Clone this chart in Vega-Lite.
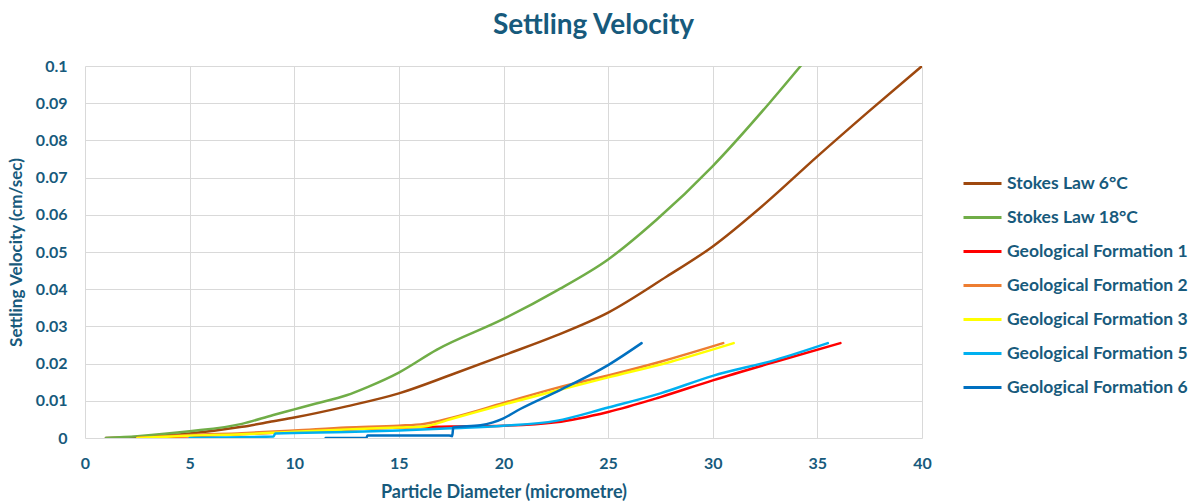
{
  "$schema": "https://vega.github.io/schema/vega-lite/v6.json",
  "autosize": {"type": "none"},
  "padding": {"left": 85, "top": 66, "right": 273, "bottom": 66},
  "width": 837,
  "height": 372,
  "background": "white",
  "title": {
    "text": "Settling Velocity",
    "fontSize": 28,
    "font": "Lato",
    "fontWeight": "bold",
    "color": "#175a7c",
    "anchor": "middle",
    "dx": 90,
    "offset": 18
  },
  "config": {
    "view": {"stroke": null},
    "font": "Lato",
    "axis": {
      "labelFont": "Lato",
      "labelFontSize": 16,
      "labelFontWeight": "bold",
      "labelColor": "#175a7c",
      "titleFont": "Lato",
      "titleFontSize": 17,
      "titleFontWeight": "bold",
      "titleColor": "#175a7c",
      "gridColor": "#D9D9D9",
      "gridWidth": 1,
      "gridOpacity": 1,
      "domain": false,
      "ticks": false,
      "labelFlush": false
    },
    "legend": {
      "labelFont": "Lato",
      "labelFontSize": 17.5,
      "labelFontWeight": "bold",
      "labelColor": "#175a7c",
      "labelLimit": 300
    }
  },
  "data": {
    "values": [
      {"s": "Stokes Law 6°C", "i": 1, "x": 1, "y": 0},
      {"s": "Stokes Law 6°C", "i": 2, "x": 2.5, "y": 0.0003},
      {"s": "Stokes Law 6°C", "i": 3, "x": 5, "y": 0.0012},
      {"s": "Stokes Law 6°C", "i": 4, "x": 7.5, "y": 0.003},
      {"s": "Stokes Law 6°C", "i": 5, "x": 9, "y": 0.0045},
      {"s": "Stokes Law 6°C", "i": 6, "x": 10, "y": 0.0055},
      {"s": "Stokes Law 6°C", "i": 7, "x": 12.5, "y": 0.0085},
      {"s": "Stokes Law 6°C", "i": 8, "x": 15, "y": 0.012},
      {"s": "Stokes Law 6°C", "i": 9, "x": 17.5, "y": 0.017},
      {"s": "Stokes Law 6°C", "i": 10, "x": 20, "y": 0.0222},
      {"s": "Stokes Law 6°C", "i": 11, "x": 22.5, "y": 0.0275},
      {"s": "Stokes Law 6°C", "i": 12, "x": 25, "y": 0.0337},
      {"s": "Stokes Law 6°C", "i": 13, "x": 27.8, "y": 0.0434},
      {"s": "Stokes Law 6°C", "i": 14, "x": 30, "y": 0.0515},
      {"s": "Stokes Law 6°C", "i": 15, "x": 32.5, "y": 0.063},
      {"s": "Stokes Law 6°C", "i": 16, "x": 35, "y": 0.0757},
      {"s": "Stokes Law 6°C", "i": 17, "x": 37.5, "y": 0.088},
      {"s": "Stokes Law 6°C", "i": 18, "x": 40, "y": 0.1},

      {"s": "Stokes Law 18°C", "i": 1, "x": 1, "y": 0},
      {"s": "Stokes Law 18°C", "i": 2, "x": 2.5, "y": 0.0005},
      {"s": "Stokes Law 18°C", "i": 3, "x": 5, "y": 0.0018},
      {"s": "Stokes Law 18°C", "i": 4, "x": 7.5, "y": 0.0038},
      {"s": "Stokes Law 18°C", "i": 5, "x": 9, "y": 0.0062},
      {"s": "Stokes Law 18°C", "i": 6, "x": 10, "y": 0.0077},
      {"s": "Stokes Law 18°C", "i": 7, "x": 11, "y": 0.0092},
      {"s": "Stokes Law 18°C", "i": 8, "x": 12.5, "y": 0.0115},
      {"s": "Stokes Law 18°C", "i": 9, "x": 13.5, "y": 0.0137},
      {"s": "Stokes Law 18°C", "i": 10, "x": 15, "y": 0.0176},
      {"s": "Stokes Law 18°C", "i": 11, "x": 16.8, "y": 0.0237},
      {"s": "Stokes Law 18°C", "i": 12, "x": 20, "y": 0.032},
      {"s": "Stokes Law 18°C", "i": 13, "x": 22.5, "y": 0.0395},
      {"s": "Stokes Law 18°C", "i": 14, "x": 25, "y": 0.048},
      {"s": "Stokes Law 18°C", "i": 15, "x": 27.3, "y": 0.0586},
      {"s": "Stokes Law 18°C", "i": 16, "x": 30, "y": 0.0731},
      {"s": "Stokes Law 18°C", "i": 17, "x": 32.7, "y": 0.09},
      {"s": "Stokes Law 18°C", "i": 18, "x": 34.2, "y": 0.1},

      {"s": "Geological Formation 1", "i": 1, "x": 2.5, "y": 0},
      {"s": "Geological Formation 1", "i": 2, "x": 5, "y": 0.0005},
      {"s": "Geological Formation 1", "i": 3, "x": 10, "y": 0.0016},
      {"s": "Geological Formation 1", "i": 4, "x": 15, "y": 0.0028},
      {"s": "Geological Formation 1", "i": 5, "x": 17.5, "y": 0.0031},
      {"s": "Geological Formation 1", "i": 6, "x": 20, "y": 0.0033},
      {"s": "Geological Formation 1", "i": 7, "x": 22.5, "y": 0.0042},
      {"s": "Geological Formation 1", "i": 8, "x": 25, "y": 0.007},
      {"s": "Geological Formation 1", "i": 9, "x": 27.5, "y": 0.011},
      {"s": "Geological Formation 1", "i": 10, "x": 30, "y": 0.0155},
      {"s": "Geological Formation 1", "i": 11, "x": 33, "y": 0.0205},
      {"s": "Geological Formation 1", "i": 12, "x": 36.1, "y": 0.0255},

      {"s": "Geological Formation 2", "i": 1, "x": 2.5, "y": 0},
      {"s": "Geological Formation 2", "i": 2, "x": 5, "y": 0.0008},
      {"s": "Geological Formation 2", "i": 3, "x": 7.5, "y": 0.0013},
      {"s": "Geological Formation 2", "i": 4, "x": 10, "y": 0.002},
      {"s": "Geological Formation 2", "i": 5, "x": 12.5, "y": 0.0028},
      {"s": "Geological Formation 2", "i": 6, "x": 15, "y": 0.0033},
      {"s": "Geological Formation 2", "i": 7, "x": 16.2, "y": 0.0038},
      {"s": "Geological Formation 2", "i": 8, "x": 17.5, "y": 0.0054},
      {"s": "Geological Formation 2", "i": 9, "x": 20, "y": 0.0094},
      {"s": "Geological Formation 2", "i": 10, "x": 22.5, "y": 0.0134},
      {"s": "Geological Formation 2", "i": 11, "x": 25, "y": 0.0168},
      {"s": "Geological Formation 2", "i": 12, "x": 27.5, "y": 0.0205},
      {"s": "Geological Formation 2", "i": 13, "x": 30.5, "y": 0.0255},

      {"s": "Geological Formation 3", "i": 1, "x": 2.5, "y": 0},
      {"s": "Geological Formation 3", "i": 2, "x": 5, "y": 0.0006},
      {"s": "Geological Formation 3", "i": 3, "x": 7.5, "y": 0.001},
      {"s": "Geological Formation 3", "i": 4, "x": 10, "y": 0.0017},
      {"s": "Geological Formation 3", "i": 5, "x": 12.5, "y": 0.0023},
      {"s": "Geological Formation 3", "i": 6, "x": 15, "y": 0.0028},
      {"s": "Geological Formation 3", "i": 7, "x": 16.2, "y": 0.0031},
      {"s": "Geological Formation 3", "i": 8, "x": 17.5, "y": 0.0051},
      {"s": "Geological Formation 3", "i": 9, "x": 20, "y": 0.009},
      {"s": "Geological Formation 3", "i": 10, "x": 22.5, "y": 0.0127},
      {"s": "Geological Formation 3", "i": 11, "x": 25, "y": 0.0163},
      {"s": "Geological Formation 3", "i": 12, "x": 28, "y": 0.0205},
      {"s": "Geological Formation 3", "i": 13, "x": 31, "y": 0.0255},

      {"s": "Geological Formation 5", "i": 1, "x": 5, "y": 0},
      {"s": "Geological Formation 5", "i": 2, "x": 9, "y": 0.0004},
      {"s": "Geological Formation 5", "i": 3, "x": 9.1, "y": 0.0012},
      {"s": "Geological Formation 5", "i": 4, "x": 12.5, "y": 0.0016},
      {"s": "Geological Formation 5", "i": 5, "x": 15, "y": 0.002},
      {"s": "Geological Formation 5", "i": 6, "x": 17.5, "y": 0.0026},
      {"s": "Geological Formation 5", "i": 7, "x": 20, "y": 0.0033},
      {"s": "Geological Formation 5", "i": 8, "x": 22.5, "y": 0.0046},
      {"s": "Geological Formation 5", "i": 9, "x": 25, "y": 0.0082},
      {"s": "Geological Formation 5", "i": 10, "x": 27.5, "y": 0.012},
      {"s": "Geological Formation 5", "i": 11, "x": 30, "y": 0.0167},
      {"s": "Geological Formation 5", "i": 12, "x": 33, "y": 0.021},
      {"s": "Geological Formation 5", "i": 13, "x": 35.5, "y": 0.0255},

      {"s": "Geological Formation 6", "i": 1, "x": 11.5, "y": 0},
      {"s": "Geological Formation 6", "i": 2, "x": 13.45, "y": 0.0001},
      {"s": "Geological Formation 6", "i": 3, "x": 13.5, "y": 0.0007},
      {"s": "Geological Formation 6", "i": 4, "x": 17.4, "y": 0.0007},
      {"s": "Geological Formation 6", "i": 5, "x": 17.55, "y": 0.0005},
      {"s": "Geological Formation 6", "i": 6, "x": 17.6, "y": 0.0029},
      {"s": "Geological Formation 6", "i": 7, "x": 18.9, "y": 0.0034},
      {"s": "Geological Formation 6", "i": 8, "x": 19.5, "y": 0.0042},
      {"s": "Geological Formation 6", "i": 9, "x": 20, "y": 0.0053},
      {"s": "Geological Formation 6", "i": 10, "x": 20.8, "y": 0.0078},
      {"s": "Geological Formation 6", "i": 11, "x": 22.7, "y": 0.0129},
      {"s": "Geological Formation 6", "i": 12, "x": 25, "y": 0.0196},
      {"s": "Geological Formation 6", "i": 13, "x": 26.6, "y": 0.0255}
    ]
  },
  "mark": {"type": "line", "strokeWidth": 2.5, "strokeCap": "round", "strokeJoin": "round", "interpolate": "monotone", "clip": true},
  "encoding": {
    "x": {
      "field": "x",
      "type": "quantitative",
      "scale": {"domain": [0, 40], "nice": false},
      "axis": {"values": [0, 5, 10, 15, 20, 25, 30, 35, 40], "title": "Particle Diameter (micrometre)", "titleFontSize": 18, "labelPadding": 17, "titlePadding": 12}
    },
    "y": {
      "field": "y",
      "type": "quantitative",
      "scale": {"domain": [0, 0.1], "nice": false},
      "axis": {"values": [0, 0.01, 0.02, 0.03, 0.04, 0.05, 0.06, 0.07, 0.08, 0.09, 0.1], "format": "~g", "title": "Settling Velocity (cm/sec)", "labelPadding": 18, "titlePadding": 10}
    },
    "color": {
      "field": "s",
      "type": "nominal",
      "scale": {
        "domain": ["Stokes Law 6°C", "Stokes Law 18°C", "Geological Formation 1", "Geological Formation 2", "Geological Formation 3", "Geological Formation 5", "Geological Formation 6"],
        "range": ["#9E480E", "#70AD47", "#FF0000", "#ED7D31", "#FFFF00", "#00B0F0", "#0070C0"]
      },
      "legend": {
        "title": null,
        "orient": "none",
        "legendX": 877,
        "legendY": 97,
        "symbolType": "stroke",
        "symbolSize": 1444,
        "symbolStrokeWidth": 3,
        "labelOffset": 4,
        "rowPadding": 5
      }
    },
    "order": {"field": "i", "type": "quantitative"}
  }
}
